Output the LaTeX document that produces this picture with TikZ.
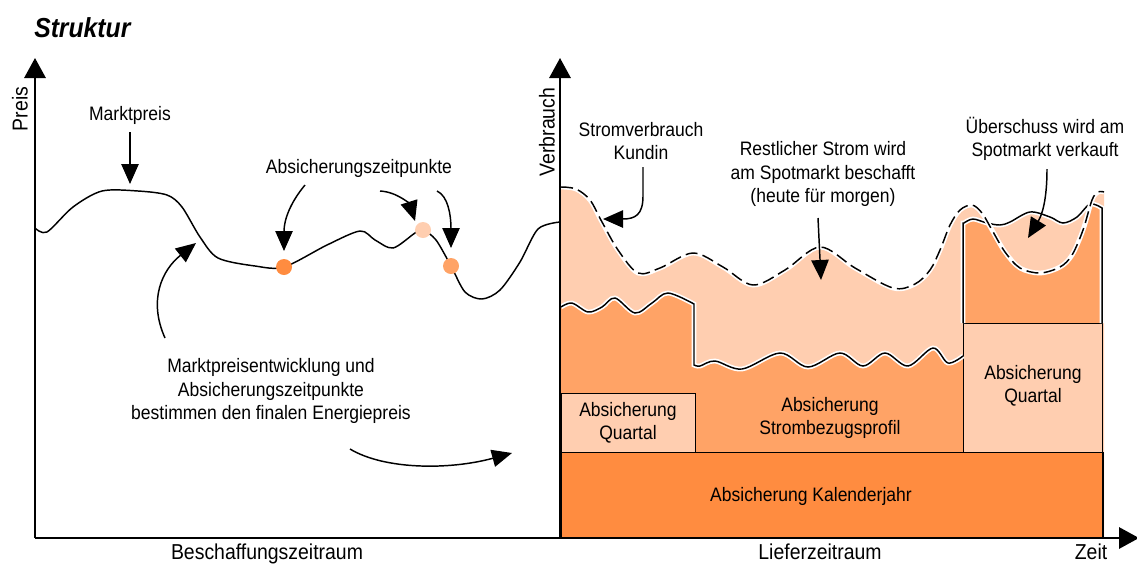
\documentclass[tikz,border=0pt]{standalone}
\usepackage{fontspec}
\setmainfont{Liberation Sans}[FakeStretch=0.9]
\usetikzlibrary{arrows.meta}
\definecolor{oDark}{RGB}{255,140,64}
\definecolor{oMid}{RGB}{255,163,102}
\definecolor{oLight}{RGB}{255,206,176}
\begin{document}
\begin{tikzpicture}[x=0.75pt,y=-0.75pt,
  every node/.style={font=\fontsize{14.6}{17.6}\selectfont,inner sep=0pt,align=center},
  biglabel/.style={font=\fontsize{16.2}{19}\selectfont},
  axisline/.style={line width=1.5pt,-{Triangle[length=15pt,width=16pt]}},
  callout/.style={line width=1.1pt,-{Triangle[length=15pt,width=13pt]}},
  curveline/.style={line width=1.1pt},
  halo/.style={white,line width=3.6pt},
  boxline/.style={draw=black,line width=1.1pt},
  dot/.style={circle,minimum size=12pt},
  consumline/.style={insert path={-- plot[smooth,tension=0.55] coordinates {(561,187) (576,189) (590,200) (602,222) (618,250) (638,273) (660,268) (693,253) (723,267) (753,285) (785,270) (820,247) (855,268) (893,288) (915,284) (930,270) (940,250) (950,225) (960,210) (972,205) (982,213) (992,230) (1005,252) (1020,268) (1040,273) (1060,267) (1072,255) (1083,230) (1092,200) (1098,192) (1104,192)}}},
  hedgeA/.style={insert path={-- plot[smooth,tension=0.55] coordinates {(561,307) (572,303) (588,312) (602,307) (615,298) (635,313) (652,303) (668,293) (694,304)}}},
  hedgeB/.style={insert path={-- plot[smooth,tension=0.55] coordinates {(694,365) (700,366) (715,361) (742,369) (780,353) (808,367) (840,353) (863,366) (885,353) (908,366) (933,348) (948,363) (963,356)}}},
  blocktop/.style={insert path={-- plot[smooth,tension=0.55] coordinates {(964,223) (973,219) (987,223) (1000,225) (1010,222) (1030,212) (1050,217) (1063,223) (1077,217) (1090,204) (1102,208)}}},
  pricecurve/.style={insert path={-- plot[smooth,tension=0.5] coordinates {(35,228) (47,232) (73,207) (102,191) (138,191) (167,195) (182,207) (200,237) (218,258) (255,266) (284,267) (327,245) (360,231) (375,240) (393,248) (415,233) (423,230) (436,240) (451,266) (465,292) (482,299) (500,290) (520,262) (538,229) (560,222)}}}
]
\useasboundingbox (0,0) rectangle (1137,565);

% ---------- fills of the delivery period ----------
\fill[oLight] (561,538) [consumline] -- (1104,538) -- cycle;
\fill[oLight] (963,452) -- (963,223) [blocktop] -- (1102,452) -- cycle;
\begin{scope}
  \clip (963,452) -- (963,223) [blocktop] -- (1102,452) -- cycle;
  \fill[oMid] (561,538) [consumline] -- (1104,538) -- cycle;
\end{scope}
\fill[oMid] (561,452) -- (561,307) [hedgeA] -- (694,365) [hedgeB] -- (963,452) -- cycle;

% ---------- boxes ----------
\node[boxline,fill=oLight,minimum width=100.5pt,minimum height=44.25pt,anchor=north west] (ql) at (561,393) {};
\node[boxline,fill=oLight,minimum width=104pt,minimum height=97pt,anchor=north west] (qr) at (963,323) {};
\node[boxline,fill=oDark,minimum width=406pt,minimum height=64.5pt,anchor=north west] (kj) at (561,452) {};

% ---------- wavy borders with halos ----------
\draw[halo] (561,307) [hedgeA] -- (694,365) [hedgeB];
\draw[curveline] (561,307) [hedgeA] -- (694,365) [hedgeB];
\draw[halo] (963,323) -- (963,223) [blocktop] -- (1102,323);
\draw[curveline] (963,323) -- (963,223) [blocktop] -- (1102,323);
\draw[halo] (561,187) [consumline];
\draw[curveline,dash pattern=on 9pt off 4pt] (561,187) [consumline];

% ---------- box texts ----------
\node (tql) at (628,423) {Absicherung\\Quartal};
\node (tsp) at (830,418) {Absicherung\\Strombezugsprofil};
\node (tqr) at (1033,386) {Absicherung\\Quartal};
\node (tkj) at (811,496) {Absicherung Kalenderjahr};

% ---------- price curve ----------
\draw[curveline] (35,228) [pricecurve];
\node[dot,fill=oDark] (d1) at (284,267) {};
\node[dot,fill=oLight] (d2) at (423,230) {};
\node[dot,fill=oMid] (d3) at (451,266) {};

% ---------- axes ----------
\coordinate (o1) at (35,538);
\coordinate (o2) at (560,538);
\coordinate (ty1) at (35,58);
\coordinate (ty2) at (560,58);
\coordinate (tx) at (1139,538);
\draw[axisline] (o1) -- (ty1);
\draw[axisline] (o2) -- (ty2);
\draw[axisline] (o1) -- (tx);

% ---------- labels ----------
\node[anchor=west,font=\fontsize{20.6}{24}\selectfont\bfseries\itshape] (title) at (34,28) {Struktur};
\node[biglabel,rotate=90] (preis) at (20,109) {Preis};
\node[biglabel,rotate=90] (verb) at (547,132) {Verbrauch};
\node[biglabel,anchor=base] (besch) at (267,559) {Beschaffungszeitraum};
\node[biglabel,anchor=base] (liefer) at (820,559) {Lieferzeitraum};
\node[biglabel,anchor=base] (zeit) at (1091,559) {Zeit};

\node (mp) at (130,115) {Marktpreis};
\node (az) at (359,168) {Absicherungszeitpunkte};
\node (mpe) at (271,391) {Marktpreisentwicklung und\\Absicherungszeitpunkte\\bestimmen den finalen Energiepreis};
\node (sv) at (641,141) {Stromverbrauch\\Kundin};
\node (rs) at (823,174) {Restlicher Strom wird\\am Spotmarkt beschafft\\(heute für morgen)};
\node (ub) at (1045,139) {Überschuss wird am\\Spotmarkt verkauft};

% ---------- callout arrows ----------
\coordinate (mpE) at (130,184);
\draw[callout] (mp.south |- 0,132) -- (mpE);

\coordinate (a1s) at (305,185);
\coordinate (a1e) at (284,251);
\draw[callout] (a1s) .. controls (290,203) and (284,220) .. (a1e);
\coordinate (a2s) at (380,191);
\coordinate (a2e) at (415,221);
\draw[callout] (a2s) .. controls (398,192) and (410,205) .. (a2e);
\coordinate (a3s) at (437,191);
\coordinate (a3e) at (451,248);
\draw[callout] (a3s) .. controls (448,196) and (451,215) .. (a3e);

\coordinate (lcs) at (165,338);
\coordinate (lce) at (196,243);
\draw[callout] (lcs) .. controls (148,300) and (162,270) .. (lce);

\coordinate (bas) at (350,449);
\coordinate (bae) at (512,453);
\draw[callout] (bas) .. controls (385,470) and (450,470) .. (bae);

\coordinate (svs) at (643,167);
\coordinate (sve) at (603,219);
\draw[callout] (svs) -- (643,196) .. controls (643,215) and (635,219) .. (sve);

\coordinate (rss) at (818,218);
\coordinate (rse) at (821,280);
\draw[callout] (rss) -- (rse);

\coordinate (ubs) at (1047,169);
\coordinate (ube) at (1028,238);
\draw[callout] (ubs) .. controls (1047,200) and (1042,215) .. (ube);
\end{tikzpicture}
\end{document}
